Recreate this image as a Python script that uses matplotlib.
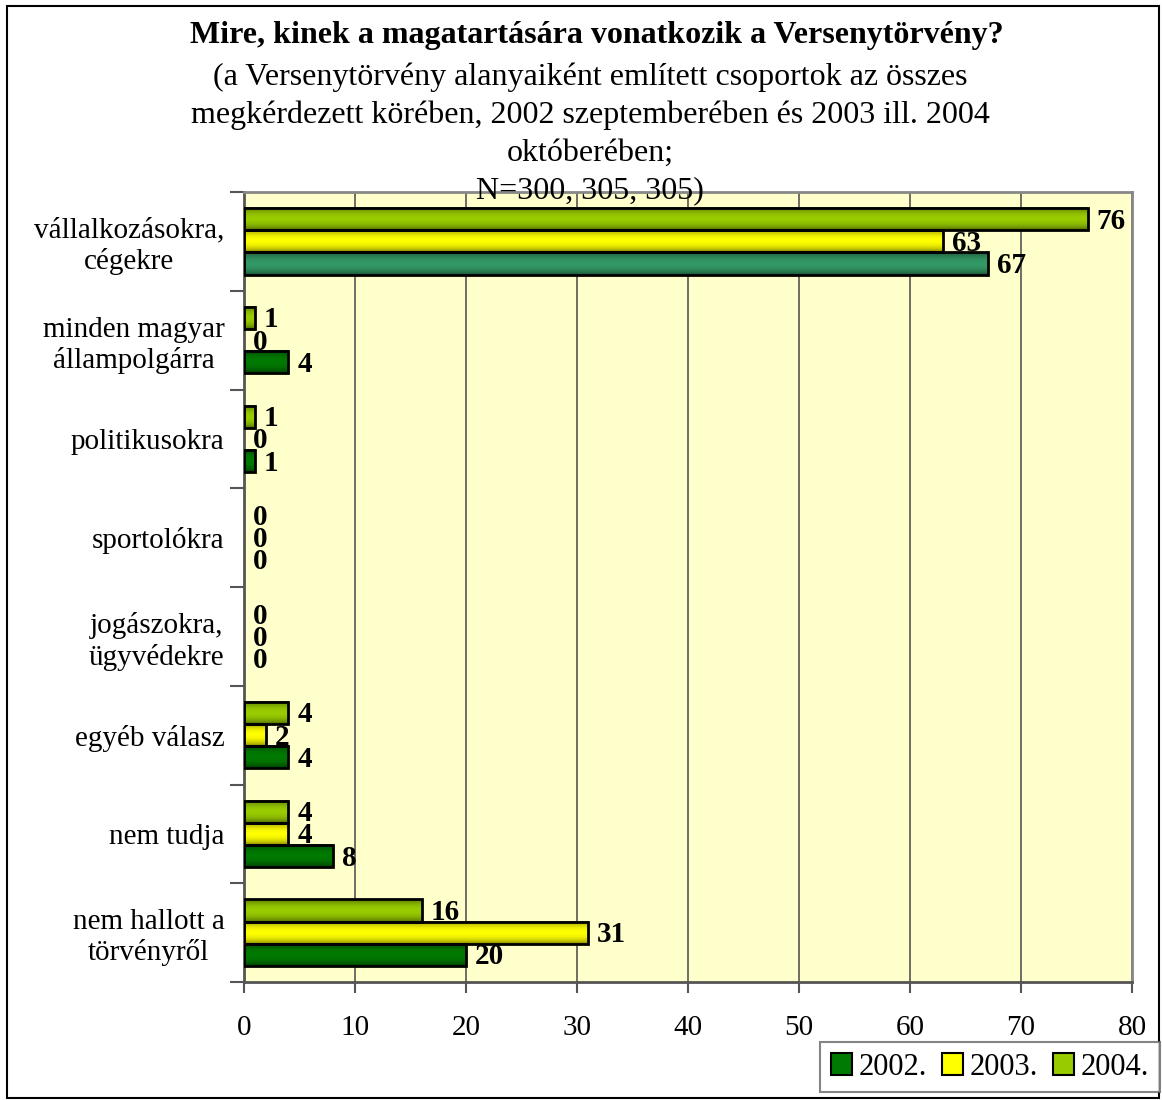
import matplotlib.pyplot as plt
import numpy as np
from matplotlib.patches import Rectangle
from matplotlib.colors import to_rgb

plt.rcParams['font.family'] = ['Liberation Serif', 'DejaVu Serif']

categories = ['vállalkozásokra,\ncégekre', 'minden magyar\nállampolgárra', 'politikusokra',
              'sportolókra', 'jogászokra,\nügyvédekre', 'egyéb válasz', 'nem tudja',
              'nem hallott a\ntörvényről']
years = ['2002.', '2003.', '2004.']
v2002 = [67, 4, 1, 0, 0, 4, 8, 20]
v2003 = [63, 0, 0, 0, 0, 2, 4, 31]
v2004 = [76, 1, 1, 0, 0, 4, 4, 16]

colors = {'2002.': '#007a00', '2003.': '#ffff00', '2004.': '#99cc00'}
first_2002 = '#339966'


def gradient_bar(ax, x0, y0, w, h, color):
    # dark edges, bright centre along bar thickness
    base = np.array(to_rgb(color))
    t = np.linspace(0, 1, 40)
    prof = 0.45 + 0.55 * np.sin(np.pi * t) ** 0.6
    img = np.clip(base[None, :] * prof[:, None], 0, 1)[:, None, :]
    ax.imshow(img, extent=[x0, x0 + w, y0 + h, y0], aspect='auto',
              interpolation='bilinear', zorder=2)
    ax.add_patch(Rectangle((x0, y0), w, h, fill=False, edgecolor='black', lw=2, zorder=3))


fig = plt.figure(figsize=(11.62, 11.0), dpi=100)
ax = fig.add_axes([244 / 1162, 1 - 982 / 1100, (1132 - 244) / 1162, (982 - 192) / 1100])
ax.set_facecolor('#ffffcc')

y = np.arange(len(categories))
h = 0.225
series = [(v2004, '2004.', -h), (v2003, '2003.', 0), (v2002, '2002.', h)]
for vals, yr, off in series:
    for i, v in enumerate(vals):
        c = colors[yr]
        if yr == '2002.' and i == 0:
            c = first_2002
        yy = y[i] + off - h / 2
        if v > 0:
            gradient_bar(ax, 0, yy, v, h, c)
        ax.text(v + 0.8, y[i] + off + 0.02, str(v), fontsize=21, fontweight='bold',
                va='center', ha='left', zorder=4)

ax.set_xlim(0, 80)
ax.set_ylim(len(categories) - 0.5, -0.5)
ax.set_xticks(np.arange(0, 81, 10))
ax.tick_params(axis='x', labelsize=21, direction='out', length=8, width=1.5, color='#555555', pad=16)
ax.set_yticks(np.arange(-0.5, len(categories), 1))
ax.set_yticklabels([])
ax.set_yticks(y, minor=True)
ax.set_yticklabels(categories, minor=True, fontsize=21, linespacing=1.2)
for lab in ax.get_yticklabels(minor=True):
    lab.set_multialignment('center')
ax.tick_params(axis='y', which='major', direction='out', length=10, width=1.5, color='#555555')
ax.tick_params(axis='y', which='minor', length=0, pad=14)
ax.grid(axis='x', color='#555555', lw=1.2, zorder=1)
ax.set_axisbelow(True)
for s in ax.spines.values():
    s.set_color('#888888')
    s.set_linewidth(2)
ax.spines['left'].set_color('#555555')
ax.spines['bottom'].set_color('#555555')

fig.text(0.514, 1 - 35 / 1100, 'Mire, kinek a magatartására vonatkozik a Versenytörvény?',
         ha='center', va='center', fontsize=23, fontweight='bold')
sub = ['(a Versenytörvény alanyaiként említett csoportok az összes',
       'megkérdezett körében, 2002 szeptemberében és 2003 ill. 2004',
       'októberében;', 'N=300, 305, 305)']
for k, line in enumerate(sub):
    fig.text(0.508, 1 - (77 + 38 * k) / 1100, line, ha='center', va='center', fontsize=23, zorder=10)

handles = [Rectangle((0, 0), 1, 1, facecolor=colors[yr], edgecolor='black', lw=1.5) for yr in years]
leg = fig.legend(handles, years, loc='upper left', bbox_to_anchor=(820 / 1162, 1 - 1042 / 1100),
                 ncol=3, fontsize=22, frameon=True, fancybox=False, edgecolor='#666666',
                 handlelength=0.7, handleheight=0.7, handletextpad=0.2, columnspacing=0.5,
                 borderpad=0.35, borderaxespad=0)
leg.get_frame().set_linewidth(1.5)

fig.patches.append(Rectangle((7 / 1162, 2 / 1100), 1152 / 1162, 1092 / 1100, transform=fig.transFigure,
                             fill=False, edgecolor='black', lw=1.5))

fig.savefig('out.png', dpi=100)
